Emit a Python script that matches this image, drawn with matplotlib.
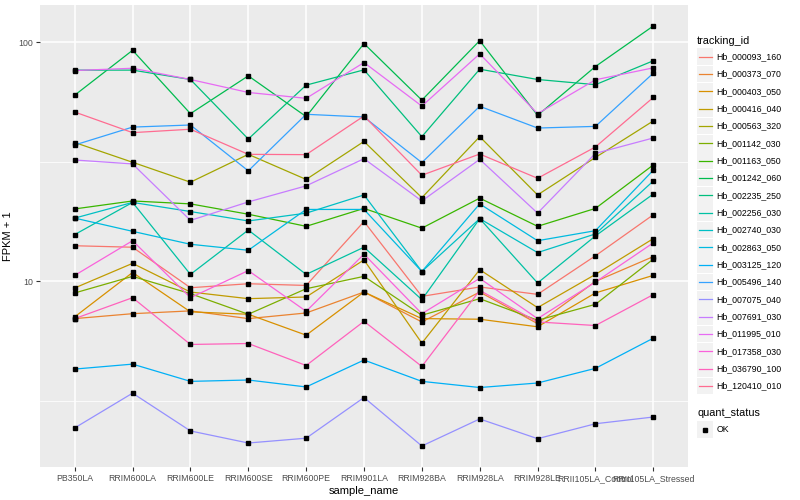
import numpy as np
import matplotlib
matplotlib.use("Agg")
import matplotlib.pyplot as plt
from matplotlib.patches import Rectangle
from matplotlib.lines import Line2D
from matplotlib.ticker import FixedLocator, NullFormatter

plt.rcParams['font.family'] = ['Liberation Sans', 'DejaVu Sans']

# x categories
samples = ["PB350LA", "RRIM600LA", "RRIM600LE", "RRIM600SE", "RRIM600PE",
           "RRIM901LA", "RRIM928BA", "RRIM928LA", "RRIM928LE",
           "RRII105LA_Control", "RRII105LA_Stressed"]

tracking_ids = ["Hb_000093_160", "Hb_000373_070", "Hb_000403_050", "Hb_000416_040",
                "Hb_000563_320", "Hb_001142_030", "Hb_001163_050", "Hb_001242_060",
                "Hb_002235_250", "Hb_002256_030", "Hb_002740_030", "Hb_002863_050",
                "Hb_003125_120", "Hb_005496_140", "Hb_007075_040", "Hb_007691_030",
                "Hb_011995_010", "Hb_017358_030", "Hb_036790_100", "Hb_120410_010"]

# ggplot default hue palette for 20 levels
colours = ["#F8766D", "#EA8331", "#D89000", "#C09B00", "#A3A500", "#7CAE00",
           "#39B600", "#00BB4E", "#00BF7D", "#00C1A3", "#00BFC4", "#00BAE0",
           "#00B0F6", "#35A2FF", "#9590FF", "#C77CFF", "#E76BF3", "#FA62DB",
           "#FF62BC", "#FF6C91"]

# FPKM + 1 per gene, one value per sample
hb_000093_160 = [14.1, 13.9, 9.41, 9.78, 9.62, 17.8, 8.66, 9.48, 8.83, 12.8, 19.0]
hb_000373_070 = [6.99, 7.33, 7.53, 6.99, 7.38, 9.03, 6.77, 9.03, 6.66, 10.0, 12.7]
hb_000403_050 = [7.11, 10.9, 7.46, 7.29, 5.96, 9.03, 6.99, 6.95, 6.46, 8.95, 10.6]
hb_000416_040 = [9.39, 11.9, 9.03, 8.47, 8.61, 12.3, 5.52, 11.2, 7.77, 10.7, 15.1]
hb_000563_320 = [38.1, 31.5, 26.0, 34.0, 26.7, 38.5, 22.4, 40.3, 23.0, 33.0, 46.9]
hb_001142_030 = [8.95, 10.5, 8.89, 7.29, 9.32, 10.5, 7.22, 8.47, 6.88, 8.02, 12.4]
hb_001163_050 = [20.1, 21.7, 21.1, 19.1, 17.0, 20.2, 16.7, 22.3, 17.0, 20.2, 30.7]
hb_001242_060 = [60.1, 92.6, 50.3, 72.4, 48.9, 98.8, 57.3, 101.6, 49.5, 79.2, 117.0]
hb_002235_250 = [76.5, 76.5, 69.9, 39.4, 66.2, 76.7, 40.3, 77.2, 69.9, 66.5, 83.7]
hb_002256_030 = [15.7, 21.4, 10.7, 16.4, 10.7, 13.9, 8.39, 18.3, 9.85, 15.5, 23.2]
hb_002740_030 = [18.4, 21.4, 19.6, 17.9, 19.3, 23.0, 11.0, 18.3, 13.2, 15.8, 26.3]
hb_002863_050 = [18.4, 16.2, 14.3, 13.5, 20.0, 20.0, 11.0, 21.1, 14.8, 16.3, 29.2]
hb_003125_120 = [4.30, 4.51, 3.82, 3.87, 3.62, 4.69, 3.82, 3.60, 3.76, 4.33, 5.79]
hb_005496_140 = [37.2, 44.2, 45.1, 29.0, 50.0, 48.7, 31.4, 54.0, 43.8, 44.5, 74.3]
hb_007075_040 = [2.44, 3.41, 2.37, 2.11, 2.21, 3.27, 2.05, 2.66, 2.20, 2.54, 2.71]
hb_007691_030 = [32.2, 31.0, 18.0, 21.5, 25.1, 32.6, 21.7, 32.4, 19.3, 34.3, 39.8]
hb_011995_010 = [76.2, 77.9, 69.9, 61.7, 58.3, 82.3, 54.1, 89.5, 50.3, 69.7, 78.2]
hb_017358_030 = [10.6, 14.8, 8.55, 11.1, 7.50, 13.0, 7.33, 10.3, 6.99, 9.94, 14.5]
hb_036790_100 = [6.99, 8.55, 5.45, 5.50, 4.45, 6.81, 4.41, 9.17, 6.77, 6.54, 8.81]
hb_120410_010 = [51.1, 41.9, 43.3, 34.0, 33.9, 49.2, 27.8, 34.1, 27.0, 36.5, 58.8]

series = [hb_000093_160, hb_000373_070, hb_000403_050, hb_000416_040, hb_000563_320,
          hb_001142_030, hb_001163_050, hb_001242_060, hb_002235_250, hb_002256_030,
          hb_002740_030, hb_002863_050, hb_003125_120, hb_005496_140, hb_007075_040,
          hb_007691_030, hb_011995_010, hb_017358_030, hb_036790_100, hb_120410_010]

W, H = 800, 500
fig = plt.figure(figsize=(8, 5), dpi=100)
fig.patch.set_facecolor("white")
ax = fig.add_axes([40 / W, 1 - 467 / H, 648 / W, 462 / H])
ax.set_facecolor("#EBEBEB")

xs = np.arange(len(samples))
for vals, col in zip(series, colours):
    ax.plot(xs, vals, color=col, lw=0.9, zorder=2)
for vals in series:
    ax.plot(xs, vals, ls="none", marker="s", ms=2.4, color="black", zorder=3)

ax.set_yscale("log")
allv = np.log10(np.concatenate([np.array(s) for s in series]))
lo, hi = allv.min(), allv.max()
pad = (hi - lo) * 0.05
ax.set_ylim(10 ** (lo - pad), 10 ** (hi + pad))
ax.set_xlim(-0.6, len(samples) - 0.4)

ax.yaxis.set_major_locator(FixedLocator([10, 100]))
ax.yaxis.set_major_formatter(plt.FixedFormatter(["10", "100"]))
ax.yaxis.set_minor_locator(FixedLocator([10 ** 0.5, 10 ** 1.5]))
ax.yaxis.set_minor_formatter(NullFormatter())
ax.set_xticks(xs)
ax.set_xticklabels(samples)

ax.grid(True, which="major", color="white", lw=1.1, zorder=0)
ax.grid(True, which="minor", axis="y", color="white", lw=0.55, zorder=0)
ax.set_axisbelow(True)
for s in ax.spines.values():
    s.set_visible(False)
ax.tick_params(axis="both", which="major", length=3, width=0.8, color="#333333",
               labelcolor="#4D4D4D", labelsize=6.3, pad=2)
ax.tick_params(axis="y", which="minor", length=0)

ax.set_xlabel("sample_name", fontsize=8, labelpad=2)
ax.set_ylabel("FPKM + 1", fontsize=8, labelpad=4)


def fx(x):
    return x / W


def fy(y):
    return 1 - y / H


# legend: tracking_id
fig.text(fx(697), fy(41), "tracking_id", fontsize=7.8, va="center", ha="left")
for i, (name, col) in enumerate(zip(tracking_ids, colours)):
    cy = 56.7 + i * 17.33
    fig.add_artist(Rectangle((fx(697), fy(cy + 8.3)), 16 / W, 16.6 / H,
                             transform=fig.transFigure, facecolor="#F2F2F2",
                             edgecolor="none"))
    fig.add_artist(Line2D([fx(698.5), fx(712)], [fy(cy), fy(cy)],
                          transform=fig.transFigure, color=col, lw=0.9))
    fig.text(fx(716.5), fy(cy), name, fontsize=6.3, va="center", ha="left")

# legend: quant_status
fig.text(fx(697), fy(413), "quant_status", fontsize=7.8, va="center", ha="left")
cy = 429.5
fig.add_artist(Rectangle((fx(697), fy(cy + 8.3)), 16 / W, 16.6 / H,
                         transform=fig.transFigure, facecolor="#F2F2F2",
                         edgecolor="none"))
fig.add_artist(Line2D([fx(705)], [fy(cy)], transform=fig.transFigure,
                      marker="s", ms=2.4, color="black", ls="none"))
fig.text(fx(716.5), fy(cy), "OK", fontsize=6.3, va="center", ha="left")

fig.savefig("out.png", dpi=100)
